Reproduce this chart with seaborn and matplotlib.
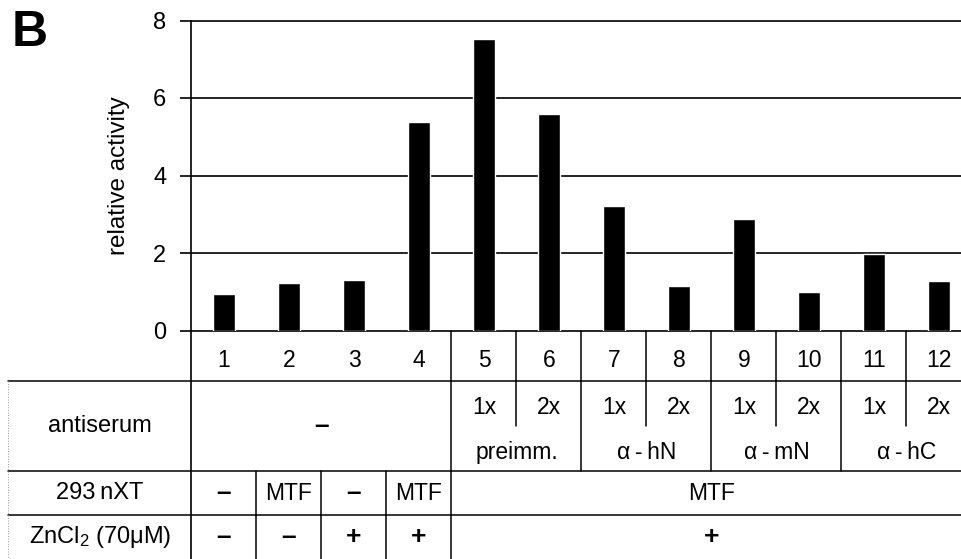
import matplotlib
matplotlib.use("Agg")
import matplotlib.pyplot as plt
import seaborn as sns
import pandas as pd

# Luciferase reporter activity per lane
lanes = [str(i) for i in range(1, 13)]
activity = [0.95, 1.23, 1.31, 5.39, 7.52, 5.59, 3.21, 1.14, 2.87, 1.00, 1.97, 1.27]

# Table annotations below the bars
row_labels = ["antiserum", "293\u2009nXT", "ZnCl$_2$ (70\u03bcM)"]
antiserum_none = "\u2013"            # lanes 1-4: no antiserum
doses = ["1x", "2x"]                 # repeated for each antiserum
antisera = ["preimm.", "\u03b1\u2009-\u2009hN", "\u03b1\u2009-\u2009mN", "\u03b1\u2009-\u2009hC"]
cells_ctrl = ["\u2013", "MTF", "\u2013", "MTF"]
cells_treated = "MTF"
zinc_ctrl = ["\u2013", "\u2013", "+", "+"]
zinc_treated = "+"
yticks = [0, 2, 4, 6, 8]

sns.set_theme(style="white")
plt.rcParams["font.family"] = ["Liberation Sans", "DejaVu Sans"]
plt.rcParams["mathtext.default"] = "regular"
for key in ["text.color", "axes.labelcolor", "xtick.color", "ytick.color", "axes.edgecolor"]:
    plt.rcParams[key] = "black"

W, H = 962, 559
fig = plt.figure(figsize=(W / 100, H / 100), dpi=100)

x0 = 191.5      # left edge of the lane columns (px)
col = 65.0      # width of one lane column (px)
y_zero = 330.5  # baseline of the bar panel (px from top)
y_top = 20.5    # top of the bar panel (px from top)
xmax = -0.5 + (W - x0) / col
FS = 16.5       # table text size
DASH = dict(fontsize=19, fontweight="bold")

# ---- bar panel ----
ax = fig.add_axes([x0 / W, (H - y_zero) / H, (W - x0) / W, (y_zero - y_top) / H])
df = pd.DataFrame({"lane": lanes, "activity": activity})
sns.barplot(data=df, x="lane", y="activity", color="black", saturation=1,
            width=0.35, ax=ax, zorder=3)
ax.set_xlim(-0.5, xmax)
ax.set_ylim(0, 8)
ax.set_yticks(yticks)
ax.set_yticklabels([str(t) for t in yticks])
ax.set_xticks([])
ax.set_xlabel("")
ax.set_ylabel("relative activity", fontsize=17.5, va="center")
ax.yaxis.set_label_coords((119 - x0) / (W - x0), 0.5)
for t in yticks[1:-1]:
    ax.axhline(t, color="black", lw=1.2, zorder=1)
for side in ["top", "left", "bottom"]:
    ax.spines[side].set_visible(True)
    ax.spines[side].set_color("black")
    ax.spines[side].set_linewidth(1.2)
ax.spines["right"].set_visible(False)
ax.tick_params(axis="y", direction="out", left=True, length=8, width=1.2,
               labelsize=17, pad=10, colors="black")

# ---- annotation table ----
row_h = [51, 90, 44, 44]
edges = [sum(row_h[:i]) for i in range(len(row_h) + 1)]
tab = fig.add_axes([x0 / W, 0, (W - x0) / W, (H - y_zero) / H])
tab.set_xlim(-0.5, xmax)
tab.set_ylim(edges[-1], 0)
tab.axis("off")

lw = 1.1
xl = -0.5 - (x0 - 8) / col
xlab = (xl - 0.5) / 2
n_ctrl = len(cells_ctrl)
n = len(lanes)
half = edges[1] + row_h[1] / 2


def mark(x, y, s):
    """Table entry; dashes and plus signs are set heavier."""
    kw = DASH if s in ("\u2013", "+") else dict(fontsize=FS)
    tab.text(x, y, s, ha="center", va="center", **kw)


# horizontal rules
for y in edges[1:4]:
    tab.plot([xl, xmax + 1], [y, y], color="black", lw=lw, clip_on=False)
# left axis continues through the table
tab.plot([-0.5, -0.5], [0, edges[-1]], color="black", lw=1.2, clip_on=False)
tab.plot([xl, xl], [edges[1], edges[-1]], color="#999999", lw=0.7, ls=":", clip_on=False)

# lane numbers
for i, lab in enumerate(lanes):
    tab.text(i, edges[0] + row_h[0] / 2 + 5, lab, ha="center", va="center", fontsize=FS)
for i in range(n_ctrl, n):
    tab.plot([i - 0.5, i - 0.5], [edges[0], edges[1]], color="black", lw=lw, clip_on=False)

# antiserum row
mark((n_ctrl - 1) / 2, half, antiserum_none)
for g, name in enumerate(antisera):
    first = n_ctrl + g * len(doses)
    tab.plot([first - 0.5, first - 0.5], [edges[1], edges[2]], color="black", lw=lw, clip_on=False)
    for d, dose in enumerate(doses):
        mark(first + d, edges[1] + 26, dose)
        if d > 0:
            tab.plot([first + d - 0.5] * 2, [edges[1], half], color="black", lw=lw, clip_on=False)
    mark(first + (len(doses) - 1) / 2, edges[1] + 71, name)

# cell line and zinc rows
for r, (ctrl, treated) in enumerate([(cells_ctrl, cells_treated), (zinc_ctrl, zinc_treated)]):
    top, bot = edges[2 + r], edges[3 + r]
    yc = (top + bot) / 2
    for i, v in enumerate(ctrl):
        mark(i, yc, v)
        if i > 0:
            tab.plot([i - 0.5, i - 0.5], [top, bot], color="black", lw=lw, clip_on=False)
    tab.plot([n_ctrl - 0.5] * 2, [top, bot], color="black", lw=lw, clip_on=False)
    mark((n_ctrl + n - 1) / 2, yc, treated)

# row headings
tab.text(xlab, half, row_labels[0], ha="center", va="center", fontsize=17, clip_on=False)
for r, lab in enumerate(row_labels[1:]):
    tab.text(xlab, (edges[2 + r] + edges[3 + r]) / 2, lab, ha="center", va="center",
             fontsize=17, clip_on=False)

fig.text(12 / W, 1 - 10 / H, "B", fontsize=36, fontweight="bold", ha="left", va="top")

fig.savefig("out.png", dpi=100)
